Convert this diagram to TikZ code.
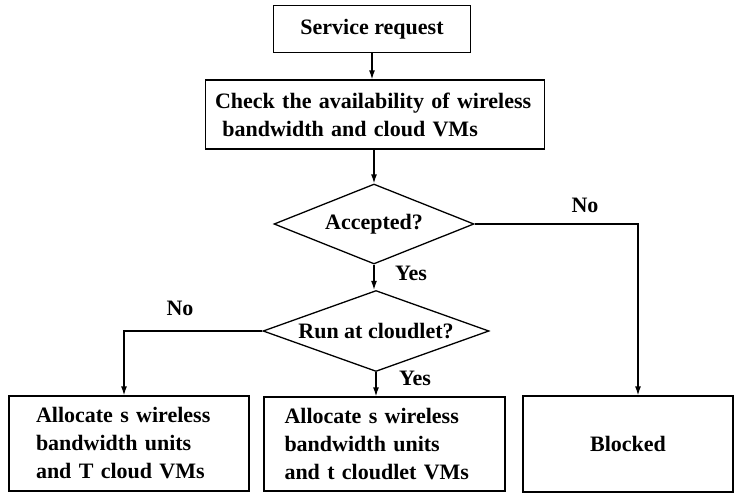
\documentclass[tikz,border=0pt]{standalone}
\usepackage{fontspec}
\setmainfont{Liberation Serif}
\usetikzlibrary{shapes.geometric,arrows.meta}

\tikzset{
  every node/.style={font=\fontsize{22}{28}\selectfont\bfseries},
  box/.style={draw, line width=1.3pt, inner sep=0pt, align=left},
  test/.style={draw, diamond, line width=1.3pt, inner sep=0pt, aspect=2.5},
  flow/.style={line width=1.3pt, -{Latex[length=9pt,width=6pt]}}
}

\begin{document}
\begin{tikzpicture}[x=1pt,y=1pt]
  \useasboundingbox (0,0) rectangle (734,-493);

  \node[box, minimum width=197pt, minimum height=47pt] (req) at (372,-29) {Service request};
  \node[box, minimum width=339pt, minimum height=69pt, text width=320pt] (check) at (375,-114.5)
    {Check the availability of wireless\\\ bandwidth and cloud VMs};

  \node[test, minimum width=200pt, minimum height=80pt] (accept) at (374,-224) {Accepted?};
  \node[test, minimum width=226pt, minimum height=81pt] (cloudlet) at (376,-331) {Run at cloudlet?};

  % bottom row
  \node[box, minimum width=240pt, minimum height=95pt, text width=186pt] (tocloud) at (129,-443.5)
    {Allocate s wireless\\bandwidth units\\and T cloud VMs};
  \node[box, minimum width=241pt, minimum height=94pt, text width=200pt] (tocloudlet) at (384.5,-444)
    {Allocate s wireless\\bandwidth units\\and t cloudlet VMs};
  \node[box, minimum width=210pt, minimum height=96pt] (blocked) at (628,-444) {Blocked};

  \draw[flow] (req.south) -- (req.south |- check.north);
  \draw[flow] (accept.north |- check.south) -- (accept.north);
  \draw[flow] (accept.south) -- (cloudlet.north -| accept.south);
  \draw[flow] (cloudlet.south) -- (cloudlet.south |- tocloudlet.north);
  \draw[flow] (accept.east) -| ([xshift=10pt]blocked.north);
  \draw[flow] (cloudlet.west) -| ([xshift=-5pt]tocloud.north);

  \node (noright) at (585,-205) {No};
  \node (yestop) at (411,-273) {Yes};
  \node (noleft) at (180,-308) {No};
  \node (yesbot) at (415,-378) {Yes};
\end{tikzpicture}
\end{document}
